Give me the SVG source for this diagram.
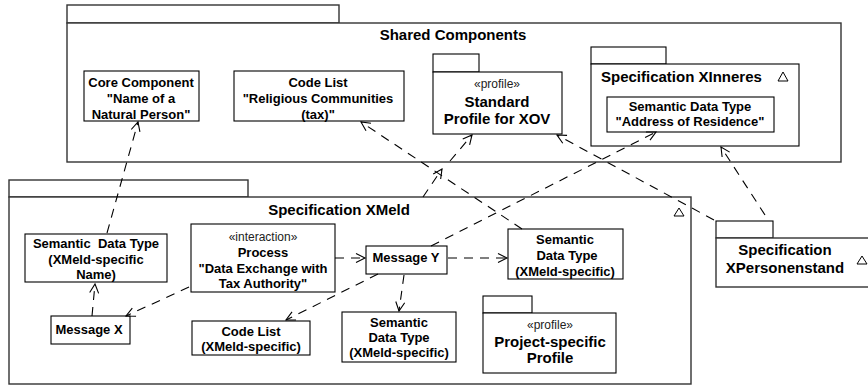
<svg xmlns="http://www.w3.org/2000/svg" width="868" height="387" viewBox="0 0 868 387">
<defs>
<marker id="arr" markerUnits="userSpaceOnUse" markerWidth="12" markerHeight="12" refX="10" refY="5" orient="auto">
<path d="M1,0.5 L10,5 L1,9.5" fill="none" stroke="#000" stroke-width="1.1"/>
</marker>
</defs>
<style>
.pkg{fill:#fff;stroke:#333;stroke-width:1.4}
.box{fill:#fff;stroke:#000;stroke-width:1.1}
.b{font-family:"Liberation Sans",Arial,sans-serif;font-weight:bold;font-size:13px;text-anchor:middle;fill:#000}
.t{font-family:"Liberation Sans",Arial,sans-serif;font-weight:bold;font-size:15px;fill:#000}
.s{font-family:"Liberation Sans",Arial,sans-serif;font-size:12px;text-anchor:middle;fill:#222}
.tri{fill:none;stroke:#000;stroke-width:1}
.dep{fill:none;stroke:#000;stroke-width:1.1;stroke-dasharray:9,7;marker-end:url(#arr)}
</style>
<rect width="868" height="387" fill="#fff"/>

<g id="shared-components">
<rect class="pkg" x="67" y="5" width="272" height="18"/>
<rect class="pkg" x="67" y="23" width="774" height="139"/>
<text class="t" x="453" y="40" text-anchor="middle" font-size="14.5">Shared Components</text>
</g>

<g id="core-component">
<rect class="box" x="84" y="71" width="115" height="50"/>
<text class="b" x="141" y="87">Core Component</text>
<text class="b" x="141" y="103">"Name of a</text>
<text class="b" x="141" y="119">Natural Person"</text>
</g>

<g id="code-list-religious">
<rect class="box" x="234" y="71" width="170" height="50"/>
<text class="b" x="318" y="87">Code List</text>
<text class="b" x="318" y="103">"Religious Communities</text>
<text class="b" x="318" y="119">(tax)"</text>
</g>

<g id="standard-profile">
<rect class="box" x="433" y="54" width="46" height="18"/>
<rect class="box" x="433" y="72" width="129" height="62"/>
<text class="s" x="497" y="88">«profile»</text>
<text class="t" x="497" y="107" text-anchor="middle">Standard</text>
<text class="t" x="497" y="124" text-anchor="middle">Profile for XOV</text>
</g>

<g id="spec-xinneres">
<rect class="box" x="591" y="47" width="75" height="17"/>
<rect class="box" x="591" y="64" width="208" height="82"/>
<text class="t" x="601" y="82">Specification XInneres</text>
<path class="tri" d="M783,72 L788,81 L778,81 Z"/>
</g>

<g id="address-of-residence">
<rect class="box" x="607" y="97" width="167" height="35"/>
<text class="b" x="690" y="111">Semantic Data Type</text>
<text class="b" x="690" y="126">"Address of Residence"</text>
</g>

<g id="spec-xmeld">
<rect class="pkg" x="9" y="180" width="239" height="17"/>
<rect class="pkg" x="9" y="197" width="682" height="187"/>
<text class="t" x="339" y="215" text-anchor="middle">Specification XMeld</text>
<path class="tri" d="M679,208 L684,216 L674,216 Z"/>
</g>

<g id="spec-xpersonenstand">
<rect class="box" x="716" y="221" width="57" height="17"/>
<rect class="pkg" x="716" y="238" width="170" height="49"/>
<text class="t" x="785" y="255" text-anchor="middle">Specification</text>
<text class="t" x="785" y="273" text-anchor="middle">XPersonenstand</text>
<path class="tri" d="M862,256 L867,264 L857,264 Z"/>
</g>

<g id="semantic-name">
<rect class="box" x="25" y="234" width="142" height="48"/>
<text class="b" x="96" y="248" xml:space="preserve">Semantic  Data Type</text>
<text class="b" x="96" y="264">(XMeld-specific</text>
<text class="b" x="96" y="279">Name)</text>
</g>

<g id="message-x">
<rect class="box" x="51" y="316" width="79" height="28"/>
<text class="b" x="89" y="334">Message X</text>
</g>

<g id="process">
<rect class="box" x="191" y="224" width="144" height="68"/>
<text class="s" x="263" y="241">«interaction»</text>
<text class="b" x="263" y="257">Process</text>
<text class="b" x="263" y="273">"Data Exchange with</text>
<text class="b" x="263" y="288">Tax Authority"</text>
</g>

<g id="message-y">
<rect class="box" x="366" y="246" width="81" height="28"/>
<text class="b" x="406" y="262">Message Y</text>
</g>

<g id="semantic-xmeld-1">
<rect class="box" x="508" y="229" width="115" height="50"/>
<text class="b" x="565" y="244">Semantic</text>
<text class="b" x="567" y="260">Data Type</text>
<text class="b" x="565" y="276">(XMeld-specific)</text>
</g>

<g id="code-list-xmeld">
<rect class="box" x="192" y="321" width="118" height="34"/>
<text class="b" x="251" y="336">Code List</text>
<text class="b" x="251" y="351">(XMeld-specific)</text>
</g>

<g id="semantic-xmeld-2">
<rect class="box" x="342" y="312" width="114" height="50"/>
<text class="b" x="399" y="327">Semantic</text>
<text class="b" x="399" y="342">Data Type</text>
<text class="b" x="399" y="357">(XMeld-specific)</text>
</g>

<g id="project-profile">
<rect class="box" x="483" y="296" width="49" height="17"/>
<rect class="box" x="483" y="313" width="133" height="60"/>
<text class="s" x="550" y="329">«profile»</text>
<text class="t" x="550" y="347" text-anchor="middle" font-size="14.5">Project-specific</text>
<text class="t" x="550" y="363" text-anchor="middle" font-size="14.5">Profile</text>
</g>

<g id="connectors">
<path class="dep" d="M107,233 L138,122"/>
<path class="dep" d="M92,316 L95,284"/>
<path class="dep" d="M189,287 L126,316"/>
<path class="dep" d="M335,258 L365,258"/>
<path class="dep" d="M448,258 L507,258"/>
<path class="dep" d="M378,274 L286,320"/>
<path class="dep" d="M404,275 L399,311"/>
<path class="dep" d="M431,246 L656,132"/>
<path class="dep" d="M522,229 L361,122"/>
<path class="dep" d="M423,197 L442,169"/>
<path class="dep" d="M450,161 L472,135"/>
<path class="dep" d="M714,220 L557,135"/>
<path class="dep" d="M765,215 L721,147"/>
</g>
</svg>
